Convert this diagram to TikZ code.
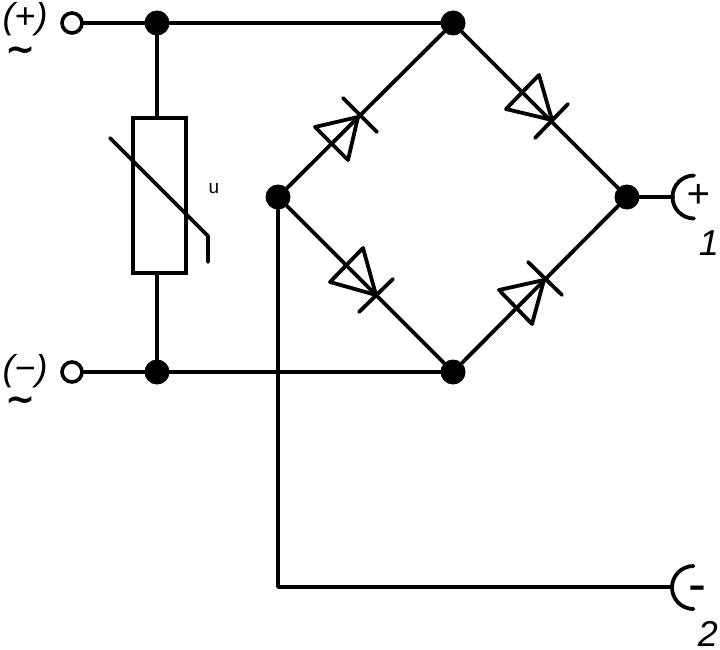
\documentclass[tikz,border=0pt]{standalone}
\usepackage{fontspec}
\setmainfont{Liberation Sans}
\newfontfamily\tildefont{DejaVu Sans}
\tikzset{
  wire/.style={line width=3.8pt,line join=round,line cap=round},
  junction/.style={circle,fill=black,minimum size=25pt,inner sep=0pt,outer sep=0pt},
  terminal/.style={circle,draw=black,line width=3.6pt,fill=white,minimum size=20pt,inner sep=0pt},
  varistor/.style={rectangle,draw=black,line width=3.8pt,minimum width=53pt,minimum height=155pt,inner sep=0pt,outer sep=0pt},
  lbl/.style={inner sep=0pt,outer sep=0pt,font=\itshape\fontsize{36}{36}\selectfont},
  sym/.style={inner sep=0pt,outer sep=0pt,font=\tildefont\bfseries\fontsize{36}{36}\selectfont},
  num/.style={inner sep=0pt,outer sep=0pt,font=\itshape\fontsize{36}{36}\selectfont}
}
\begin{document}
\begin{tikzpicture}[x=1pt,y=-1pt]
\useasboundingbox (0,0) rectangle (720,650);
% nodes
\node[terminal] (tp) at (72,23) {};
\node[terminal] (tm) at (72,372) {};
\node[junction] (ja) at (157,23) {};
\node[junction] (jb) at (157,372) {};
\node[junction] (top) at (453,23) {};
\node[junction] (bot) at (453,372) {};
\node[junction] (lft) at (278,197) {};
\node[junction] (rgt) at (627,197) {};
\node[varistor] (var) at (159.5,195.5) {};
\coordinate (corner) at (278,587);
\coordinate (p1) at (673,197);
\coordinate (p2) at (672,587);
% wires
\draw[wire] (tp) -- (ja) -- (top);
\draw[wire] (tm) -- (jb) -- (bot);
\draw[wire] (ja) -- (var.north -| ja);
\draw[wire] (var.south -| jb) -- (jb);
\draw[wire] (lft) -- (top) -- (rgt) -- (bot) -- (lft);
\draw[wire] (rgt) -- (p1);
\draw[wire] (lft) -- (corner) -- (p2);
% varistor slash
\draw[wire] (110,138) -- (208,236) -- (208,262);
% diodes
\draw[wire] (358,117) -- (315,127) -- (348,160) -- cycle;
\draw[wire] (343,98) -- (377,132);
\draw[wire] (552,120) -- (539,75) -- (506,109) -- cycle;
\draw[wire] (568,104) -- (535,138);
\draw[wire] (376,295) -- (363,248) -- (330,282) -- cycle;
\draw[wire] (393,279) -- (359,312);
\draw[wire] (544,280) -- (499,290) -- (532,324) -- cycle;
\draw[wire] (528,262) -- (562,295);
% output sockets
\draw[wire] (694,175.5) arc[start angle=90,end angle=270,radius=21.5pt];
\draw[wire] (693.5,566) arc[start angle=90,end angle=270,radius=21.5pt];
% texts
\node[inner sep=0pt,font=\fontsize{19}{19}\selectfont] (ulabel) at (214,189) {u};
\node[lbl] (plus) at (25,19.5) {(+)};
\node[lbl] (minus) at (25,371) {(−)};
\node[sym] (til1) at (21,54) {\char"007E};
\node[sym] (til2) at (21,404) {\char"007E};
\node[inner sep=0pt,font=\itshape\fontsize{40}{40}\selectfont] (oplus) at (698,196) {+};
\node[inner sep=0pt,font=\fontsize{54}{54}\selectfont] (ominus) at (697,594) {-};
\node[num] (one) at (709,243) {1};
\node[num] (two) at (708,634) {2};
\end{tikzpicture}
\end{document}
